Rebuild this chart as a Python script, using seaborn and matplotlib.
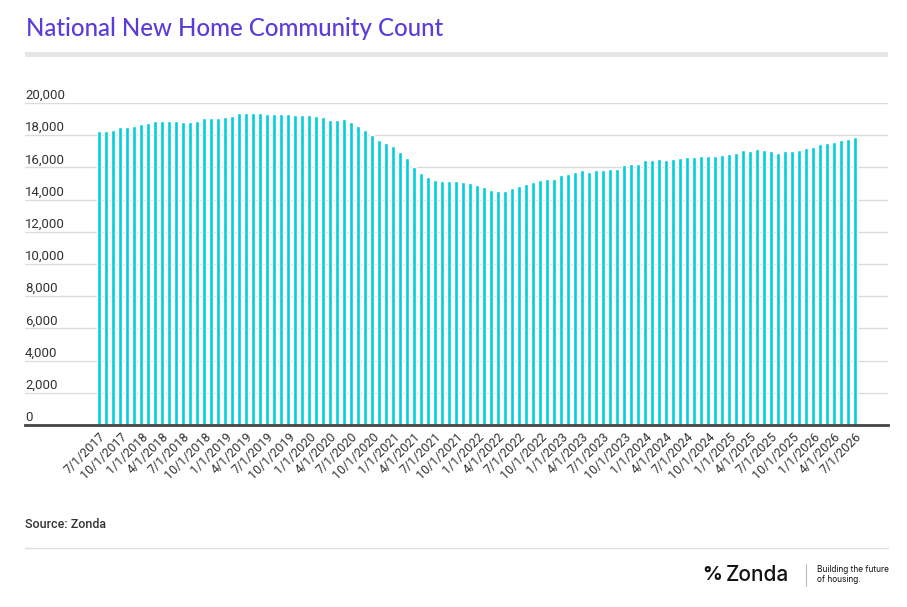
import numpy as np
import pandas as pd
import matplotlib
matplotlib.use("Agg")
import matplotlib.pyplot as plt
import matplotlib.transforms as mtransforms
from matplotlib.lines import Line2D
from matplotlib.patches import Rectangle
import seaborn as sns

# monthly community count, 7/1/2017 .. 7/1/2026
months = pd.date_range("2017-07-01", "2026-07-01", freq="MS")
counts = [
    18250, 18250, 18350, 18500, 18500, 18560, 18680, 18740, 18900, 18860, 18860, 18900,
    18800, 18800, 18860, 19050, 19050, 19050, 19130, 19180, 19360, 19360, 19360, 19360,
    19300, 19300, 19300, 19300, 19240, 19240, 19240, 19180, 19120, 18930, 18930, 19000,
    18800, 18560, 18300, 18040, 17730, 17490, 17300, 16930, 16560, 16000, 15630, 15380,
    15190, 15130, 15130, 15130, 15070, 15010, 14890, 14760, 14580, 14510, 14510, 14700,
    14820, 14940, 15070, 15190, 15310, 15310, 15500, 15620, 15740, 15810, 15740, 15810,
    15810, 15930, 15930, 16120, 16240, 16240, 16430, 16490, 16550, 16490, 16550, 16610,
    16670, 16670, 16730, 16730, 16730, 16790, 16850, 16910, 17090, 17030, 17150, 17090,
    17030, 16910, 17030, 17030, 17090, 17210, 17270, 17460, 17520, 17580, 17700, 17770,
    17890,
]
y_ticks = [0, 2000, 4000, 6000, 8000, 10000, 12000, 14000, 16000, 18000, 20000]

BAR_COLOR = "#00CEDD"
TITLE_COLOR = "#5B3CDB"
TEXT_COLOR = "#333333"
W, H = 907, 607

labels = [f"{d.month}/1/{d.year}" for d in months]
df = pd.DataFrame({"month": labels, "count": counts})

sns.set_style("white")
plt.rcParams["font.family"] = ["Roboto", "DejaVu Sans"]

fig = plt.figure(figsize=(W / 100, H / 100), dpi=100)
ax = fig.add_axes([25 / W, 1 - 425 / H, (888 - 25) / W, (425 - 103) / H])

sns.barplot(data=df, x="month", y="count", color=BAR_COLOR, width=0.64,
            saturation=1, ax=ax)

ax.set_xlim(-(99 - 25) / 7, (888 - 99) / 7)
ax.set_ylim(0, 20000)
ax.set_xlabel("")
ax.set_ylabel("")

# quarterly tick labels
tick_pos = list(range(0, len(labels), 3))
ax.set_xticks(tick_pos)
ax.set_xticklabels([labels[i] for i in tick_pos], rotation=45, ha="right",
                   rotation_mode="anchor", fontsize=9, color=TEXT_COLOR)
ax.tick_params(axis="x", length=0, pad=4)

# gridlines with labels sitting on top of them
ax.set_yticks(y_ticks)
ax.set_yticklabels([])
ax.tick_params(axis="y", length=0)
ax.yaxis.grid(True, color="#dcdcdc", lw=1)
ax.set_axisbelow(True)
trans = mtransforms.offset_copy(ax.get_yaxis_transform(), fig=fig, x=0, y=4, units="dots")
for v in y_ticks:
    ax.text(0, v, f"{v:,}", transform=trans, ha="left", va="baseline",
            fontsize=9.5, color=TEXT_COLOR)

for side in ["top", "right", "left"]:
    ax.spines[side].set_visible(False)
ax.spines["bottom"].set_color("#444444")
ax.spines["bottom"].set_linewidth(2)

# header
fig.text(26 / W, 1 - 28 / H, "National New Home Community Count", ha="left", va="center",
         fontsize=17.3, color=TITLE_COLOR, family=["Lato", "DejaVu Sans"], fontweight="medium")
fig.add_artist(Rectangle((25 / W, 1 - 57 / H), (888 - 25) / W, 5 / H,
                         transform=fig.transFigure, color="#e6e6e6", lw=0))

# footer
fig.text(25 / W, 1 - 525 / H, "Source: Zonda", ha="left", va="center",
         fontsize=9, color=TEXT_COLOR, fontweight="medium")
fig.add_artist(Line2D([25 / W, 888 / W], [1 - 548 / H, 1 - 548 / H],
                      transform=fig.transFigure, color="#dddddd", lw=1))

# logo
fig.text(702 / W, 1 - 575 / H, "%", ha="left", va="center", fontsize=14,
         fontweight="bold", color="#111111", family=["Inter", "DejaVu Sans"])
fig.text(726 / W, 1 - 575 / H, "Zonda", ha="left", va="center", fontsize=15,
         fontweight="medium", color="#111111", family=["Inter", "DejaVu Sans"])
fig.add_artist(Line2D([806 / W, 806 / W], [1 - 564 / H, 1 - 586 / H],
                      transform=fig.transFigure, color="#bbbbbb", lw=0.8))
fig.text(817 / W, 1 - 569 / H, "Building the future", ha="left", va="center",
         fontsize=6, color="#111111", family=["Inter", "DejaVu Sans"])
fig.text(817 / W, 1 - 579 / H, "of housing.", ha="left", va="center",
         fontsize=6, color="#111111", family=["Inter", "DejaVu Sans"])

fig.savefig("out.png", dpi=100)
plt.close(fig)
